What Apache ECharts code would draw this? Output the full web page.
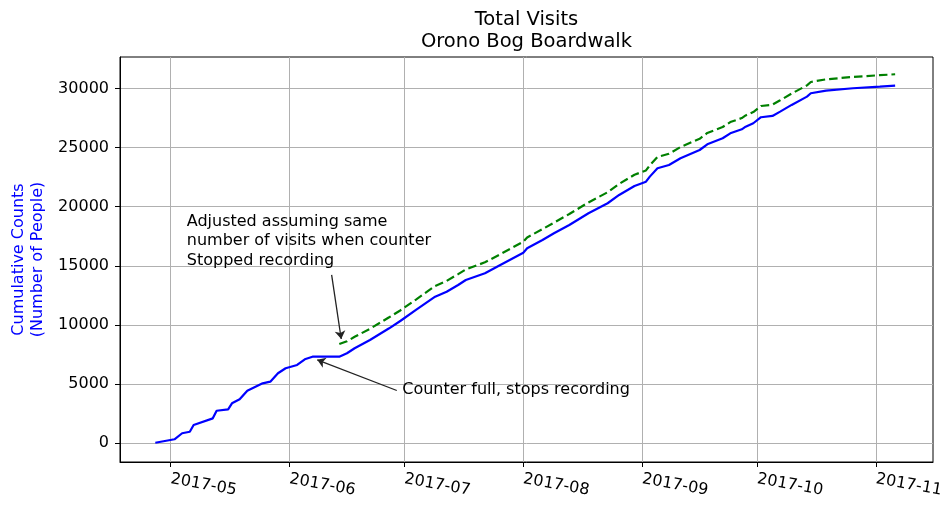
<!DOCTYPE html>
<html>
<head>
<meta charset="utf-8">
<script src="https://cdn.jsdelivr.net/npm/echarts@6/dist/echarts.min.js"></script>
<style>
  html, body { margin: 0; padding: 0; background: #fff; }
  #chart { width: 947px; height: 505px; }
</style>
</head>
<body>
<div id="chart"></div>
<script>
// Raw counter readings (cumulative)
const dates = [
  '2017-04-27', '2017-05-02', '2017-05-04', '2017-05-06', '2017-05-07', '2017-05-12',
  '2017-05-13', '2017-05-16', '2017-05-17', '2017-05-19', '2017-05-21', '2017-05-25',
  '2017-05-27', '2017-05-29', '2017-05-31', '2017-06-03', '2017-06-05', '2017-06-07',
  '2017-06-14', '2017-06-16', '2017-06-18', '2017-06-22', '2017-06-27', '2017-06-30',
  '2017-07-04', '2017-07-09', '2017-07-12', '2017-07-15', '2017-07-17', '2017-07-22',
  '2017-07-26', '2017-08-01', '2017-08-02', '2017-08-06', '2017-08-09', '2017-08-13',
  '2017-08-18', '2017-08-23', '2017-08-26', '2017-08-30', '2017-09-02', '2017-09-03',
  '2017-09-05', '2017-09-08', '2017-09-11', '2017-09-16', '2017-09-18', '2017-09-22',
  '2017-09-24', '2017-09-27', '2017-09-28', '2017-09-30', '2017-10-02', '2017-10-05',
  '2017-10-07', '2017-10-10', '2017-10-14', '2017-10-15', '2017-10-19', '2017-10-26',
  '2017-11-02', '2017-11-06'
];
const rawCounts = [
  50, 340, 850, 980, 1550, 2110,
  2750, 2870, 3380, 3720, 4450, 5070,
  5210, 5920, 6340, 6620, 7100, 7320,
  7320, 7610, 8030, 8730, 9720, 10360,
  11270, 12390, 12815, 13380, 13800, 14370,
  15070, 16110, 16480, 17185, 17750, 18450,
  19440, 20290, 20990, 21750, 22110, 22540,
  23250, 23525, 24090, 24790, 25275, 25780,
  26200, 26540, 26760, 27050, 27560, 27670,
  28030, 28600, 29300, 29585, 29805, 30010,
  30145, 30230
];
// Adjusted counts, from 2017-06-14 (when the counter restarted) onward
const adjustedCounts = [
  8390, 8620, 9000, 9680, 10650, 11250,
  12150, 13300, 13720, 14300, 14700, 15300,
  15980, 17040, 17400, 18100, 18650, 19380,
  20360, 21220, 21920, 22700, 23060, 23500,
  24200, 24470, 25040, 25740, 26230, 26730,
  27150, 27490, 27710, 28000, 28510, 28620,
  28990, 29560, 30250, 30540, 30760, 30970,
  31110, 31190
];

const xTicks = ['2017-05-01', '2017-06-01', '2017-07-01', '2017-08-01', '2017-09-01', '2017-10-01', '2017-11-01'];
const yTicks = [0, 5000, 10000, 15000, 20000, 25000, 30000];

const FONT = 'DejaVu Sans';
const toTime = (s) => +echarts.time.parse(s);

const chart = echarts.init(document.getElementById('chart'), null, { renderer: 'canvas' });

const rawData = dates.map((d, i) => [toTime(d), rawCounts[i]]);
const adjDates = dates.slice(dates.length - adjustedCounts.length);
const adjData = adjDates.map((d, i) => [toTime(d), adjustedCounts[i]]);
const xTickValues = xTicks.map(toTime);

chart.setOption({
  animation: false,
  backgroundColor: '#fff',
  title: {
    text: 'Total Visits\nOrono Bog Boardwalk',
    left: 521.5,
    textAlign: 'center',
    top: 4,
    textStyle: { fontFamily: FONT, fontSize: 19.5, fontWeight: 'normal', color: '#000', lineHeight: 22 }
  },
  grid: {
    left: 120, right: 14, top: 57, bottom: 43,
    outerBoundsMode: 'none',
    containLabel: false,
    show: true, borderColor: '#000', borderWidth: 1
  },
  xAxis: {
    type: 'value',
    min: toTime('2017-04-17 19:00'),
    max: toTime('2017-11-15 21:00'),
    axisLine: { onZero: false, lineStyle: { color: '#000', width: 1 } },
    axisTick: { show: true, length: 5, customValues: xTickValues, lineStyle: { color: '#000' } },
    axisLabel: {
      customValues: xTickValues,
      formatter: (v) => echarts.time.format(v, '{yyyy}-{MM}', false),
      rotate: -10,
      margin: 17,
      fontFamily: FONT, fontSize: 16, color: '#000'
    },
    splitLine: { show: true, lineStyle: { color: '#b0b0b0', width: 1 } }
  },
  yAxis: {
    type: 'value',
    min: -1580,
    max: 32650,
    name: 'Cumulative Counts\n(Number of People)',
    nameLocation: 'middle',
    nameRotate: 90,
    nameGap: 62,
    nameTextStyle: { fontFamily: FONT, fontSize: 16, color: '#0000ff', lineHeight: 19 },
    axisLine: { show: true, onZero: false, lineStyle: { color: '#000', width: 1 } },
    axisTick: { show: true, length: 5, customValues: yTicks, lineStyle: { color: '#000' } },
    axisLabel: {
      customValues: yTicks,
      formatter: (v) => String(v),
      margin: 11, fontFamily: FONT, fontSize: 16, color: '#000'
    },
    splitLine: { show: true, lineStyle: { color: '#b0b0b0', width: 1 } }
  },
  series: [
    {
      name: 'Counter',
      type: 'line',
      data: rawData,
      showSymbol: false,
      lineStyle: { color: '#0000ff', width: 2.2 },
      markLine: {
        silent: true,
        symbol: ['none', 'arrow'],
        symbolSize: 8,
        label: { show: false },
        lineStyle: { color: '#222', width: 1.3, type: 'solid' },
        data: [
          [
            { coord: [toTime('2017-06-12 00:00'), 14230], lineStyle: { curveness: 0.15 } },
            { coord: [toTime('2017-06-14 12:00'), 8816] }
          ],
          [
            { coord: [toTime('2017-06-29 00:00'), 4463], lineStyle: { curveness: 0.1 } },
            { coord: [toTime('2017-06-08 06:00'), 7060] }
          ]
        ]
      }
    },
    {
      name: 'Adjusted',
      type: 'line',
      data: adjData,
      showSymbol: false,
      lineStyle: { color: '#008000', width: 2.2, type: [8.5, 4] }
    }
  ]
});

// annotation texts, anchored to data coordinates
const p1 = chart.convertToPixel({ gridIndex: 0 }, [toTime('2017-05-05 05:00'), 19552]);
const p2 = chart.convertToPixel({ gridIndex: 0 }, [toTime('2017-06-30 10:00'), 4505]);
chart.setOption({
  graphic: [
    {
      type: 'text', x: p1[0], y: p1[1],
      style: {
        text: 'Adjusted assuming same\nnumber of visits when counter\nStopped recording',
        font: '16px "DejaVu Sans"', fill: '#000', lineHeight: 19.4,
        textAlign: 'left', textVerticalAlign: 'top'
      }
    },
    {
      type: 'text', x: p2[0], y: p2[1],
      style: {
        text: 'Counter full, stops recording',
        font: '16px "DejaVu Sans"', fill: '#000',
        textAlign: 'left', textVerticalAlign: 'middle'
      }
    }
  ]
});
</script>
</body>
</html>
